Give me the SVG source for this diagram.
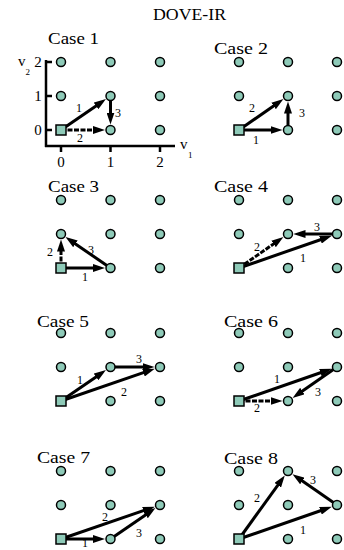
<svg xmlns="http://www.w3.org/2000/svg" width="344" height="550" viewBox="0 0 344 550">
<style>
.t{font-family:"Liberation Serif","Times New Roman",serif;fill:#000}
.case{font-size:16px}
.lbl{font-size:12px;text-anchor:middle}
.tick{font-size:15px;text-anchor:middle}
.n{fill:#8ecab8;stroke:#000;stroke-width:1.5}
.a{stroke:#000;stroke-width:3;fill:none;marker-end:url(#ah)}
.d{stroke-dasharray:5 1.5}
.ax{stroke:#000;stroke-width:2.5;fill:none}
</style>
<defs>
<marker id="ah" markerUnits="userSpaceOnUse" markerWidth="12" markerHeight="8" refX="3" refY="4" orient="auto"><path d="M0,0 L12,4 L0,8 z" fill="#000"/></marker>
</defs>
<rect width="344" height="550" fill="#fff"/>
<text class="t case" x="153" y="20" textLength="73" lengthAdjust="spacingAndGlyphs">DOVE-IR</text>

<!-- axes case 1 -->
<g id="axes">
<path class="ax" d="M46,60 V147 M45,146 H175 M46,62 H52 M46,96 H52 M46,130 H52 M61,146 V152 M110.5,146 V152 M160,146 V152"/>
<text class="t tick" x="38" y="67">2</text>
<text class="t tick" x="38" y="101">1</text>
<text class="t tick" x="38" y="135">0</text>
<text class="t tick" x="61" y="167">0</text>
<text class="t tick" x="110.5" y="167">1</text>
<text class="t tick" x="160" y="167">2</text>
<text class="t" x="18" y="66" font-size="15">v</text>
<text class="t" x="25.5" y="75" font-size="9">2</text>
<text class="t" x="180" y="149" font-size="15">v</text>
<text class="t" x="188" y="158" font-size="9">1</text>
</g>

<!-- titles -->
<text class="t case" x="48" y="44" textLength="51" lengthAdjust="spacingAndGlyphs">Case 1</text>
<text class="t case" x="214" y="54" textLength="54" lengthAdjust="spacingAndGlyphs">Case 2</text>
<text class="t case" x="48" y="192" textLength="51" lengthAdjust="spacingAndGlyphs">Case 3</text>
<text class="t case" x="214" y="192" textLength="54" lengthAdjust="spacingAndGlyphs">Case 4</text>
<text class="t case" x="37" y="327" textLength="52" lengthAdjust="spacingAndGlyphs">Case 5</text>
<text class="t case" x="224" y="327" textLength="54" lengthAdjust="spacingAndGlyphs">Case 6</text>
<text class="t case" x="37" y="463" textLength="53" lengthAdjust="spacingAndGlyphs">Case 7</text>
<text class="t case" x="224" y="464" textLength="54" lengthAdjust="spacingAndGlyphs">Case 8</text>

<!-- connectors -->
<g id="connectors">
<path class="a" d="M61,130 L98.55,104.2"/>
<path class="a d" d="M61,130 L96,130"/>
<path class="a" d="M110.5,96 L110.5,115.5"/>

<path class="a" d="M239,130 L273.5,130"/>
<path class="a" d="M239,130 L276.05,104.2"/>
<path class="a" d="M288,130 L288,110.5"/>

<path class="a" d="M61,268 L96,268"/>
<path class="a d" d="M61,268 L61,248.5"/>
<path class="a" d="M110.5,268 L72.95,242.2"/>

<path class="a" d="M239,268 L323.3,238.75"/>
<path class="a d" d="M239,268 L276.05,242.2"/>
<path class="a" d="M337,234 L302.5,234"/>

<path class="a" d="M61,401 L98.55,375.2"/>
<path class="a" d="M61,401 L146.3,371.7"/>
<path class="a" d="M110.5,367 L145.5,367"/>

<path class="a" d="M239,401 L323.3,371.75"/>
<path class="a d" d="M239,401 L273.5,401"/>
<path class="a" d="M337,367 L299.95,392.8"/>

<path class="a" d="M61,539 L96,539"/>
<path class="a" d="M61,539 L146.3,509.7"/>
<path class="a" d="M110.5,539 L148.05,513.2"/>

<path class="a" d="M239,539 L323.3,509.75"/>
<path class="a" d="M239,539 L279.5,482.8"/>
<path class="a" d="M337,505 L299.9,479.3"/>
</g>

<!-- connector labels -->
<g id="labels">
<text class="t lbl" x="79" y="112">1</text>
<text class="t lbl" x="80" y="142">2</text>
<text class="t lbl" x="118" y="117">3</text>

<text class="t lbl" x="256" y="144">1</text>
<text class="t lbl" x="252" y="112">2</text>
<text class="t lbl" x="302" y="117">3</text>

<text class="t lbl" x="85" y="281">1</text>
<text class="t lbl" x="50" y="256">2</text>
<text class="t lbl" x="91" y="254">3</text>

<text class="t lbl" x="303" y="262">1</text>
<text class="t lbl" x="257" y="251">2</text>
<text class="t lbl" x="317" y="231">3</text>

<text class="t lbl" x="80" y="384">1</text>
<text class="t lbl" x="124" y="396">2</text>
<text class="t lbl" x="139" y="363">3</text>

<text class="t lbl" x="277" y="383">1</text>
<text class="t lbl" x="257" y="412">2</text>
<text class="t lbl" x="318" y="396">3</text>

<text class="t lbl" x="85" y="546.5">1</text>
<text class="t lbl" x="105" y="521">2</text>
<text class="t lbl" x="139" y="537">3</text>

<text class="t lbl" x="303" y="534">1</text>
<text class="t lbl" x="257" y="502">2</text>
<text class="t lbl" x="313" y="484">3</text>
</g>

<!-- nodes -->
<g id="case1-nodes">
<rect id="c1-n00" class="n" x="56" y="125" width="10" height="10"/>
<circle id="c1-n10" class="n" cx="110.5" cy="130" r="4.5"/>
<circle id="c1-n20" class="n" cx="160" cy="130" r="4.5"/>
<circle id="c1-n01" class="n" cx="61" cy="96" r="4.5"/>
<circle id="c1-n11" class="n" cx="110.5" cy="96" r="4.5"/>
<circle id="c1-n21" class="n" cx="160" cy="96" r="4.5"/>
<circle id="c1-n02" class="n" cx="61" cy="62" r="4.5"/>
<circle id="c1-n12" class="n" cx="110.5" cy="62" r="4.5"/>
<circle id="c1-n22" class="n" cx="160" cy="62" r="4.5"/>
</g>
<g id="case2-nodes">
<rect id="c2-n00" class="n" x="234" y="125" width="10" height="10"/>
<circle id="c2-n10" class="n" cx="288" cy="130" r="4.5"/>
<circle id="c2-n20" class="n" cx="337" cy="130" r="4.5"/>
<circle id="c2-n01" class="n" cx="239" cy="96" r="4.5"/>
<circle id="c2-n11" class="n" cx="288" cy="96" r="4.5"/>
<circle id="c2-n21" class="n" cx="337" cy="96" r="4.5"/>
<circle id="c2-n02" class="n" cx="239" cy="62" r="4.5"/>
<circle id="c2-n12" class="n" cx="288" cy="62" r="4.5"/>
<circle id="c2-n22" class="n" cx="337" cy="62" r="4.5"/>
</g>
<g id="case3-nodes">
<rect id="c3-n00" class="n" x="56" y="263" width="10" height="10"/>
<circle id="c3-n10" class="n" cx="110.5" cy="268" r="4.5"/>
<circle id="c3-n20" class="n" cx="160" cy="268" r="4.5"/>
<circle id="c3-n01" class="n" cx="61" cy="234" r="4.5"/>
<circle id="c3-n11" class="n" cx="110.5" cy="234" r="4.5"/>
<circle id="c3-n21" class="n" cx="160" cy="234" r="4.5"/>
<circle id="c3-n02" class="n" cx="61" cy="200" r="4.5"/>
<circle id="c3-n12" class="n" cx="110.5" cy="200" r="4.5"/>
<circle id="c3-n22" class="n" cx="160" cy="200" r="4.5"/>
</g>
<g id="case4-nodes">
<rect id="c4-n00" class="n" x="234" y="263" width="10" height="10"/>
<circle id="c4-n10" class="n" cx="288" cy="268" r="4.5"/>
<circle id="c4-n20" class="n" cx="337" cy="268" r="4.5"/>
<circle id="c4-n01" class="n" cx="239" cy="234" r="4.5"/>
<circle id="c4-n11" class="n" cx="288" cy="234" r="4.5"/>
<circle id="c4-n21" class="n" cx="337" cy="234" r="4.5"/>
<circle id="c4-n02" class="n" cx="239" cy="200" r="4.5"/>
<circle id="c4-n12" class="n" cx="288" cy="200" r="4.5"/>
<circle id="c4-n22" class="n" cx="337" cy="200" r="4.5"/>
</g>
<g id="case5-nodes">
<rect id="c5-n00" class="n" x="56" y="396" width="10" height="10"/>
<circle id="c5-n10" class="n" cx="110.5" cy="401" r="4.5"/>
<circle id="c5-n20" class="n" cx="160" cy="401" r="4.5"/>
<circle id="c5-n01" class="n" cx="61" cy="367" r="4.5"/>
<circle id="c5-n11" class="n" cx="110.5" cy="367" r="4.5"/>
<circle id="c5-n21" class="n" cx="160" cy="367" r="4.5"/>
<circle id="c5-n02" class="n" cx="61" cy="333" r="4.5"/>
<circle id="c5-n12" class="n" cx="110.5" cy="333" r="4.5"/>
<circle id="c5-n22" class="n" cx="160" cy="333" r="4.5"/>
</g>
<g id="case6-nodes">
<rect id="c6-n00" class="n" x="234" y="396" width="10" height="10"/>
<circle id="c6-n10" class="n" cx="288" cy="401" r="4.5"/>
<circle id="c6-n20" class="n" cx="337" cy="401" r="4.5"/>
<circle id="c6-n01" class="n" cx="239" cy="367" r="4.5"/>
<circle id="c6-n11" class="n" cx="288" cy="367" r="4.5"/>
<circle id="c6-n21" class="n" cx="337" cy="367" r="4.5"/>
<circle id="c6-n02" class="n" cx="239" cy="333" r="4.5"/>
<circle id="c6-n12" class="n" cx="288" cy="333" r="4.5"/>
<circle id="c6-n22" class="n" cx="337" cy="333" r="4.5"/>
</g>
<g id="case7-nodes">
<rect id="c7-n00" class="n" x="56" y="534" width="10" height="10"/>
<circle id="c7-n10" class="n" cx="110.5" cy="539" r="4.5"/>
<circle id="c7-n20" class="n" cx="160" cy="539" r="4.5"/>
<circle id="c7-n01" class="n" cx="61" cy="505" r="4.5"/>
<circle id="c7-n11" class="n" cx="110.5" cy="505" r="4.5"/>
<circle id="c7-n21" class="n" cx="160" cy="505" r="4.5"/>
<circle id="c7-n02" class="n" cx="61" cy="471" r="4.5"/>
<circle id="c7-n12" class="n" cx="110.5" cy="471" r="4.5"/>
<circle id="c7-n22" class="n" cx="160" cy="471" r="4.5"/>
</g>
<g id="case8-nodes">
<rect id="c8-n00" class="n" x="234" y="534" width="10" height="10"/>
<circle id="c8-n10" class="n" cx="288" cy="539" r="4.5"/>
<circle id="c8-n20" class="n" cx="337" cy="539" r="4.5"/>
<circle id="c8-n01" class="n" cx="239" cy="505" r="4.5"/>
<circle id="c8-n11" class="n" cx="288" cy="505" r="4.5"/>
<circle id="c8-n21" class="n" cx="337" cy="505" r="4.5"/>
<circle id="c8-n02" class="n" cx="239" cy="471" r="4.5"/>
<circle id="c8-n12" class="n" cx="288" cy="471" r="4.5"/>
<circle id="c8-n22" class="n" cx="337" cy="471" r="4.5"/>
</g>
</svg>
